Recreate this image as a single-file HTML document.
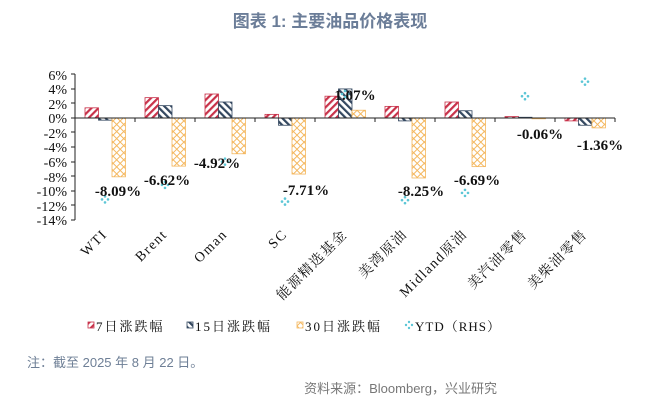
<!DOCTYPE html>
<html><head><meta charset="utf-8"><style>
html,body{margin:0;padding:0;background:#fff;width:660px;height:406px;overflow:hidden}
</style></head><body>
<svg width="660" height="406" xmlns="http://www.w3.org/2000/svg">
<defs>
<pattern id="pr" patternUnits="userSpaceOnUse" width="5" height="5" patternTransform="rotate(45)"><rect width="5" height="5" fill="#fff"/><rect width="2.2" height="5" fill="#c8324a"/></pattern>
<pattern id="pb" patternUnits="userSpaceOnUse" width="5" height="5" patternTransform="rotate(-45)"><rect width="5" height="5" fill="#fff"/><rect width="2.2" height="5" fill="#33475f"/></pattern>
<pattern id="po" patternUnits="userSpaceOnUse" width="5" height="5" patternTransform="rotate(45)"><rect width="5" height="5" fill="#fff"/><rect width="1" height="5" fill="#f4b860"/><rect width="5" height="1" fill="#f4b860"/></pattern>
</defs>
<text x="330" y="27" text-anchor="middle" font-family="'Liberation Sans','Noto Sans CJK SC',sans-serif" font-size="17" font-weight="bold" fill="#6b7d98">图表 1:  主要油品价格表现</text>
<g font-family="'Liberation Serif','Noto Serif CJK SC',serif" font-size="14" fill="#111" text-anchor="end">
<text x="67" y="80">6%</text><text x="67" y="94">4%</text><text x="67" y="109">2%</text><text x="67" y="123">0%</text>
<text x="67" y="138">-2%</text><text x="67" y="152">-4%</text><text x="67" y="167">-6%</text><text x="67" y="182">-8%</text>
<text x="67" y="196">-10%</text><text x="67" y="211">-12%</text><text x="67" y="225">-14%</text>
</g>
<g stroke="#222" stroke-width="1">
<line x1="75" y1="74" x2="75" y2="220"/>
<line x1="71" y1="74" x2="75" y2="74"/><line x1="71" y1="89" x2="75" y2="89"/><line x1="71" y1="103" x2="75" y2="103"/><line x1="71" y1="118" x2="75" y2="118"/><line x1="71" y1="132" x2="75" y2="132"/><line x1="71" y1="147" x2="75" y2="147"/><line x1="71" y1="162" x2="75" y2="162"/><line x1="71" y1="176" x2="75" y2="176"/><line x1="71" y1="191" x2="75" y2="191"/><line x1="71" y1="205" x2="75" y2="205"/><line x1="71" y1="220" x2="75" y2="220"/>
</g>
<g id="bars"></g>
<line x1="75" y1="118" x2="615" y2="118" stroke="#222"/>
<g id="ticks" stroke="#222"></g>
<g id="pts" fill="#5cc6d6"></g>
<g id="lbl" font-family="'Liberation Serif',serif" font-size="15" font-weight="bold" fill="#111" text-anchor="middle"></g>
<g id="xl" font-family="'Liberation Serif','Noto Serif CJK SC',serif" font-size="14" fill="#111" text-anchor="end" letter-spacing="1.5"></g>
<g font-family="'Liberation Serif','Noto Serif CJK SC',serif" font-size="13" fill="#111" letter-spacing="2">
<rect x="88" y="322" width="6" height="6" fill="url(#pr)" stroke="#c8324a" stroke-width="0.8"/><text x="96" y="331">7日涨跌幅</text>
<rect x="187" y="322" width="6" height="6" fill="url(#pb)" stroke="#33475f" stroke-width="0.8"/><text x="195" y="331">15日涨跌幅</text>
<rect x="297" y="322" width="6" height="6" fill="url(#po)" stroke="#f4b860" stroke-width="0.8"/><text x="305" y="331">30日涨跌幅</text>
<g fill="#5cc6d6"><circle cx="409" cy="322" r="1.2"/><circle cx="409" cy="328" r="1.2"/><circle cx="406" cy="325" r="1.2"/><circle cx="412" cy="325" r="1.2"/></g>
<text x="415" y="331" letter-spacing="1">YTD（RHS）</text>
</g>
<text x="27" y="367" font-family="'Liberation Sans','Noto Sans CJK SC',sans-serif" font-size="13" fill="#6e7f96">注：截至 2025 年 8 月 22 日。</text>
<text x="497" y="393" text-anchor="end" font-family="'Liberation Sans','Noto Sans CJK SC',sans-serif" font-size="13" fill="#777">资料来源：Bloomberg，兴业研究</text>
</svg>
<script>
var NS="http://www.w3.org/2000/svg";
function el(p,t,a,txt){var e=document.createElementNS(NS,t);for(var k in a)e.setAttribute(k,a[k]);if(txt)e.textContent=txt;document.getElementById(p).appendChild(e);}
var z=118,s=7.27;
var d=[[1.4,-0.3,-8.09,-11.2],[2.8,1.7,-6.62,-9.2],[3.3,2.2,-4.92,-6.0],[0.5,-1.0,-7.71,-11.5],[3.0,4.0,1.07,3.3],[1.6,-0.4,-8.25,-11.3],[2.2,1.0,-6.69,-10.3],[0.2,0.1,-0.06,3.0],[-0.4,-1.0,-1.36,5.0]];
var names=["WTI","Brent","Oman","SC","能源精选基金","美湾原油","Midland原油","美汽油零售","美柴油零售"];
var lab=[[118,196],[167,185],[217,168],[306,195],[355,100],[421,196],[477,185],[540,139],[600,150]];
var fills=["url(#pr)","url(#pb)","url(#po)"],strokes=["#c8324a","#33475f","#f4b860"];
for(var i=0;i<9;i++){var c=75+60*i;
 for(var j=0;j<3;j++){var v=d[i][j];var y=v>=0?z-v*s:z;var h=Math.abs(v)*s;
  el("bars","rect",{x:c+10+j*13.5,y:y,width:13.5,height:Math.max(h,0.8),fill:fills[j],stroke:strokes[j],"stroke-width":0.8});}
 el("ticks","line",{x1:c+60,y1:118,x2:c+60,y2:122});
 var px=c+30,py=z-d[i][3]*s;
 [[0,-3],[0,3],[-3,0],[3,0]].forEach(function(o){el("pts","circle",{cx:px+o[0],cy:py+o[1],r:1.3});});
 var v3=d[i][2];el("lbl","text",{x:lab[i][0],y:lab[i][1]},(v3<0?"-":"")+Math.abs(v3).toFixed(2)+"%");
 el("xl","text",{x:c+33,y:235,transform:"rotate(-45 "+(c+33)+" 235)"},names[i]);
}
</script>
</body></html>
